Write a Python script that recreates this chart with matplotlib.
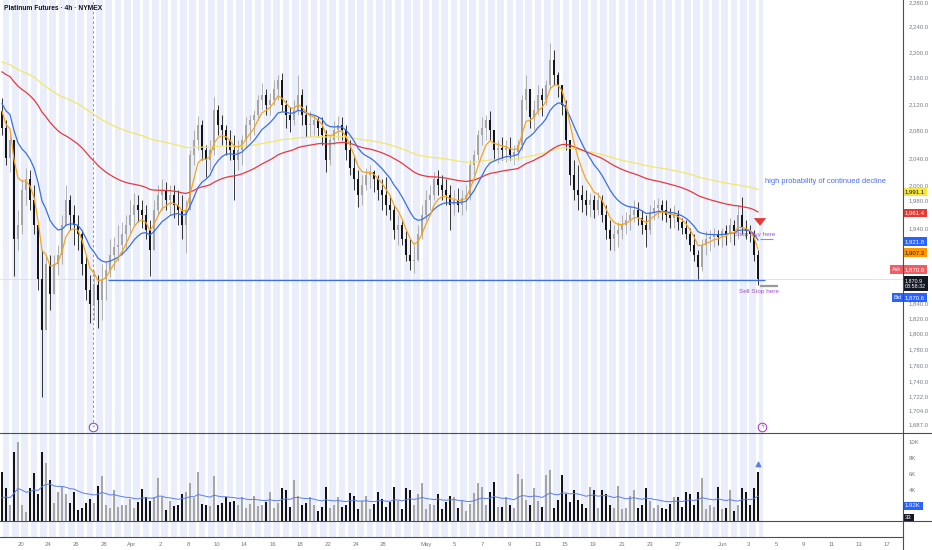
import matplotlib
matplotlib.use("Agg")
import matplotlib.pyplot as plt
from matplotlib.lines import Line2D
from matplotlib.ticker import NullLocator
import numpy as np

plt.rcParams["font.family"] = ["Liberation Sans", "DejaVu Sans"]

# 4h candles (open = previous close)
first_open = 2110.0
highs = [
    2129, 2096, 2081, 2052, 1966, 2009, 2026, 2023, 2001, 1945,
    1911, 1904, 1904, 1904, 1918, 1959, 2001, 1987, 1973, 1959,
    1938, 1904, 1877, 1884, 1877, 1891, 1895, 1925, 1928, 1945,
    1949, 1959, 1980, 1990, 1987, 1980, 1973, 1952, 1980, 2001,
    2009, 2006, 2001, 2001, 1994, 1987, 1980, 2052, 2081, 2102,
    2096, 2059, 2067, 2131, 2119, 2104, 2089, 2081, 2074, 2067,
    2074, 2100, 2104, 2111, 2134, 2152, 2142, 2137, 2157, 2164,
    2168, 2126, 2116, 2126, 2164, 2142, 2119, 2110, 2104, 2100,
    2100, 2081, 2074, 2094, 2102, 2100, 2089, 2067, 2045, 2023,
    2016, 2026, 2030, 2023, 2016, 2009, 2012, 1987, 1973, 1959,
    1952, 1936, 1925, 1918, 1945, 1973, 1994, 2001, 2020, 2023,
    2016, 2009, 2001, 1994, 1997, 1994, 2001, 2037, 2052, 2081,
    2100, 2104, 2110, 2081, 2067, 2071, 2067, 2070, 2059, 2067,
    2134, 2164, 2134, 2126, 2149, 2145, 2157, 2214, 2203, 2169,
    2149, 2126, 2067, 2037, 2030, 2001, 1994, 1990, 1987, 1991,
    1987, 1973, 1952, 1945, 1949, 1959, 1963, 1973, 1980, 1977,
    1966, 1959, 1973, 1980, 1983, 1980, 1980, 1969, 1973, 1966,
    1955, 1952, 1941, 1932, 1911, 1925, 1936, 1938, 1941, 1938,
    1941, 1945, 1955, 1952, 1973, 1984, 1952, 1945, 1938, 1911,
]
lows = [
    2074, 2030, 2020, 1875, 1911, 1932, 1973, 1966, 1932, 1857,
    1721, 1825, 1831, 1851, 1877, 1891, 1945, 1938, 1918, 1911,
    1877, 1844, 1814, 1818, 1807, 1818, 1844, 1874, 1884, 1895,
    1904, 1911, 1932, 1945, 1949, 1941, 1925, 1875, 1918, 1959,
    1966, 1966, 1959, 1955, 1945, 1925, 1907, 1966, 2030, 2052,
    2037, 2012, 2023, 2045, 2074, 2059, 2045, 2037, 1980, 2023,
    2030, 2055, 2067, 2074, 2096, 2111, 2104, 2104, 2119, 2126,
    2110, 2084, 2078, 2089, 2104, 2089, 2071, 2070, 2074, 2070,
    2059, 2019, 2030, 2059, 2067, 2067, 2037, 2016, 1994, 1970,
    1973, 1994, 1997, 1991, 1980, 1966, 1959, 1952, 1925, 1918,
    1918, 1895, 1884, 1880, 1895, 1925, 1952, 1966, 1980, 1987,
    1980, 1973, 1938, 1959, 1963, 1959, 1966, 1980, 2016, 2037,
    2059, 2067, 2067, 2037, 2033, 2037, 2034, 2037, 2030, 2037,
    2052, 2111, 2084, 2081, 2104, 2102, 2119, 2142, 2149, 2131,
    2104, 2052, 2001, 1980, 1966, 1963, 1959, 1956, 1955, 1959,
    1949, 1925, 1911, 1909, 1914, 1925, 1932, 1938, 1949, 1945,
    1932, 1914, 1932, 1952, 1955, 1952, 1949, 1941, 1941, 1938,
    1932, 1925, 1909, 1895, 1871, 1882, 1904, 1909, 1914, 1918,
    1914, 1918, 1922, 1918, 1925, 1932, 1925, 1922, 1895, 1864,
]
closes = [
    2084, 2040, 2067, 1925, 1945, 1994, 2009, 1980, 1945, 1871,
    1805, 1891, 1851, 1891, 1904, 1945, 1980, 1959, 1945, 1932,
    1891, 1857, 1838, 1864, 1844, 1871, 1884, 1904, 1914, 1918,
    1932, 1945, 1959, 1973, 1966, 1959, 1938, 1911, 1966, 1987,
    1994, 1980, 1987, 1973, 1966, 1945, 1966, 2045, 2067, 2089,
    2052, 2037, 2052, 2111, 2089, 2081, 2067, 2052, 2037, 2052,
    2067, 2089, 2096, 2104, 2126, 2134, 2119, 2126, 2142, 2157,
    2119, 2104, 2096, 2111, 2134, 2104, 2089, 2089, 2096, 2084,
    2074, 2037, 2067, 2081, 2089, 2081, 2052, 2026, 2009, 1987,
    2001, 2016, 2020, 2009, 1994, 1987, 1973, 1966, 1938, 1945,
    1925, 1904, 1895, 1897, 1932, 1959, 1980, 1987, 2009, 2001,
    1994, 1987, 1973, 1980, 1973, 1983, 1987, 2030, 2045, 2074,
    2084, 2096, 2081, 2052, 2055, 2052, 2055, 2045, 2049, 2059,
    2126, 2142, 2100, 2111, 2134, 2126, 2149, 2188, 2164, 2149,
    2119, 2067, 2016, 1994, 1987, 1980, 1973, 1980, 1966, 1980,
    1959, 1938, 1925, 1932, 1938, 1945, 1952, 1959, 1966, 1955,
    1945, 1938, 1963, 1969, 1973, 1966, 1959, 1955, 1959, 1949,
    1941, 1932, 1918, 1904, 1887, 1918, 1925, 1928, 1932, 1928,
    1936, 1932, 1945, 1936, 1959, 1941, 1936, 1932, 1904, 1870.9,
]
volume_k = [
    6.2, 4.2, 2.0, 8.8, 10.0, 2.0, 1.2, 4.2, 6.1, 3.4,
    8.8, 7.4, 5.2, 2.3, 3.7, 4.3, 3.4, 2.3, 3.7, 1.4,
    1.6, 2.3, 2.8, 2.3, 4.4, 5.7, 2.1, 1.6, 3.9, 1.8,
    2.1, 2.1, 2.8, 1.6, 2.4, 4.1, 3.1, 2.5, 3.0, 5.5,
    3.1, 1.4, 2.5, 1.9, 2.0, 3.5, 3.7, 4.8, 2.9, 6.2,
    2.2, 2.1, 1.9, 5.7, 2.0, 2.3, 3.1, 2.4, 2.5, 2.1,
    3.1, 1.6, 2.2, 3.2, 1.9, 2.0, 2.4, 3.7, 1.6, 2.3,
    4.2, 3.9, 1.8, 5.2, 3.2, 2.1, 2.3, 3.0, 2.0, 1.3,
    1.8, 4.3, 1.6, 2.0, 3.0, 1.8, 2.0, 3.6, 3.2, 1.5,
    2.5, 3.2, 1.5, 2.2, 3.7, 2.8, 1.8, 2.4, 4.3, 2.6,
    1.5, 4.2, 3.9, 2.0, 3.5, 4.8, 1.5, 2.2, 2.0, 3.4,
    1.5, 2.4, 3.2, 3.1, 1.6, 2.6, 1.3, 2.2, 3.6, 4.8,
    4.3, 2.0, 3.7, 5.0, 1.8, 1.8, 3.0, 2.1, 1.6, 6.0,
    5.3, 2.7, 2.1, 4.2, 2.5, 1.8, 5.9, 6.5, 1.6, 2.7,
    5.9, 3.5, 2.4, 4.0, 2.7, 2.2, 1.6, 4.3, 3.9, 1.6,
    3.9, 3.4, 2.0, 1.6, 4.4, 1.5, 1.6, 3.2, 4.0, 1.6,
    2.1, 4.2, 2.5, 1.6, 2.0, 1.6, 1.5, 2.2, 3.0, 3.0,
    1.8, 3.7, 3.4, 2.1, 3.7, 5.5, 1.5, 2.1, 1.8, 4.3,
    1.5, 1.6, 3.9, 1.3, 2.0, 4.2, 3.7, 2.0, 4.2, 6.2,
]

# moving averages: (period, value before the first visible bar, colour)
ma_specs = [
    (125, 2186.0, "#f3e66a"),
    (60, 2172.0, "#e5393f"),
    (14, 2126.0, "#3b6fe6"),
    (6, 2119.0, "#f7a41d"),
]
ma_last_labels = ["1,991.1", "1,961.4", "1,921.8", "1,907.3"]
ma_last_values = [1991.1, 1961.4, 1921.8, 1907.3]
volume_ma_seed = 2.6

last_price = 1870.9
bid_price = 1870.6
support_level = 1870.0
countdown = "03:58:32"
volume_ma_label = "1.92K"
extra_pane_label = "33"

price_ticks = [2280, 2240, 2200, 2160, 2120, 2080, 2040, 2000, 1980,
               1940, 1840, 1820, 1800, 1780, 1760,
               1740, 1722, 1704, 1687]
volume_ticks = [10, 8, 6, 4]
date_labels = ["20", "24", "26", "28", "Apr", "2", "8", "10", "14", "16", "18",
               "22", "24", "28", "May", "5", "7", "9", "13", "15", "19", "21",
               "23", "27", "Jun", "3", "5", "9", "11", "13", "17"]
date_bars = [4.75, 11.5, 18.5, 25.5, 32.5, 39.5, 46.5, 53.75, 60.5, 67.75, 74.5,
             81.5, 88.5, 95.25, 106, 113, 120, 126.75, 134, 140.75, 147.75, 155,
             162, 169, 180.25, 186.5, 193.5, 200.25, 207.5, 214.25, 221.25]


def ema(values, period, seed):
    alpha = 2.0 / (period + 1)
    out = np.empty(len(values))
    prev = seed
    for i, v in enumerate(values):
        prev = prev + alpha * (v - prev)
        out[i] = prev
    return out


closes = np.array(closes, dtype=float)
opens = np.r_[first_open, closes[:-1]]
highs = np.maximum(np.array(highs, dtype=float), np.maximum(opens, closes))
lows = np.minimum(np.array(lows, dtype=float), np.minimum(opens, closes))
volume_k = np.array(volume_k)
n = len(closes)
idx = np.arange(n)
up = closes >= opens

UP_COLOR = "#a6a6a6"
DOWN_COLOR = "#141414"
AXIS_TEXT = "#787b86"
LINE_DARK = "#4a4d57"

W, H = 932, 550
fig = plt.figure(figsize=(W / 100, H / 100), dpi=100)


def fig_rect(x0, y0, x1, y1):
    return [x0 / W, 1 - y1 / H, (x1 - x0) / W, (y1 - y0) / H]


ax = fig.add_axes(fig_rect(0, 0, 903, 433))
axv = fig.add_axes(fig_rect(0, 433, 903, 521), sharex=ax)
axt = fig.add_axes(fig_rect(0, 521, 903, 537), sharex=ax)

x_left, x_right = -0.5, 225.25
ax.set_xlim(x_left, x_right)

# session stripes
stripe_period = 2.333
for a in (ax, axv, axt):
    for s in np.arange(x_left, n + 0.5, stripe_period):
        a.axvspan(s + 0.7, min(s + stripe_period, n + 0.3), color="#e9eefa",
                  lw=0, zorder=0)

# --- price pane ---
ax.set_yscale("log")
ax.set_ylim(1677, 2283)
ax.vlines(idx, lows, highs, colors=np.where(up, UP_COLOR, DOWN_COLOR),
          lw=0.6, zorder=3)
body = np.maximum(np.abs(closes - opens), 0.8)
ax.bar(idx, body, bottom=np.minimum(opens, closes), width=0.62,
       color=np.where(up, UP_COLOR, DOWN_COLOR), lw=0, zorder=3)

for period, seed, color in ma_specs:
    ax.plot(idx, ema(closes, period, seed), color=color, lw=0.9, zorder=4)

ax.axhline(last_price, color="#d9d9d9", lw=0.5, zorder=1)
ax.hlines(support_level, 26.5, 190.75, color="#3b6fe6", lw=0.9, zorder=5)
ax.vlines(22.75, 1690, 2283, color="#9b7fe0", lw=0.7,
          linestyles=(0, (2.5, 2.5)), zorder=2)

# annotations
ax.text(190.75, 2006, "high probability of continued decline", color="#4a6cf0",
        fontsize=5.4, ha="left", va="center", zorder=6)
ax.annotate("", xy=(189.5, 1940), xytext=(189.5, 1958),
            arrowprops=dict(arrowstyle="simple,head_width=0.9,head_length=0.55,tail_width=0.5",
                            color="#e53935", lw=0), zorder=6)
ax.hlines(1925, 189.5, 192.75, color="#9a8bb0", lw=0.8, zorder=5)
ax.text(188.2, 1932, "Stop Buy here", color="#a04fd0", fontsize=4.6,
        ha="center", va="center", zorder=6)
ax.hlines(1862, 189.5, 194.0, color="#9a9a9a", lw=1.6, zorder=5)
ax.text(189.3, 1855, "Sell Stop here", color="#a04fd0", fontsize=4.6,
        ha="center", va="center", zorder=6)

# event icons on the pane bottom
for xb, sym, col in [(22.75, "»", "#7e57c2"), (190.0, "ϟ", "#b03fc6")]:
    ax.scatter([xb], [1684.6], s=38, facecolor="white", edgecolor=col,
               lw=0.8, zorder=7, clip_on=False)
    ax.text(xb, 1684.6, sym, color=col, fontsize=4, ha="center", va="center",
            zorder=8, clip_on=False, family="DejaVu Sans")

ax.yaxis.tick_right()
ax.set_yticks(price_ticks, [f"{t:,.1f}" for t in price_ticks])
ax.yaxis.set_minor_locator(NullLocator())
ax.tick_params(axis="y", length=0, pad=4, labelsize=4.3, labelcolor=AXIS_TEXT)
ax.tick_params(axis="x", bottom=False, labelbottom=False)
for sp in ax.spines.values():
    sp.set_visible(False)


def axis_box(a, y, text, fc, tc, dx=2, dy=0, ha="left", size=4.3):
    a.annotate(text, xy=(1.0, y), xycoords=a.get_yaxis_transform(),
               xytext=(dx, dy), textcoords="offset pixels", ha=ha, va="center",
               fontsize=size, color=tc, annotation_clip=False, zorder=10,
               linespacing=1.25,
               bbox=dict(boxstyle="square,pad=0.3", fc=fc, ec="none"))


box_colors = [("#f5e740", "#131722"), ("#e53935", "white"),
              ("#2962ff", "white"), ("#ff9800", "#131722")]
for (fc, tc), val, lab in zip(box_colors, ma_last_values, ma_last_labels):
    axis_box(ax, val, lab, fc, tc)

axis_box(ax, last_price, f"{last_price:,.1f}", "#f05d62", "white", dy=10)
axis_box(ax, last_price, "Ask", "#f05d62", "white", dx=-2, dy=10, ha="right",
         size=3.9)
axis_box(ax, last_price, f"{last_price:,.1f}\n{countdown}", "#131722", "white",
         dy=-4, size=3.9)
axis_box(ax, last_price, f"{bid_price:,.1f}", "#2962ff", "white", dy=-18)
axis_box(ax, last_price, "Bid", "#2962ff", "white", dx=-2, dy=-18, ha="right",
         size=3.9)

# --- volume pane ---
axv.set_ylim(0, 11.2)
axv.bar(idx, volume_k, width=0.62, color=np.where(up, UP_COLOR, DOWN_COLOR),
        lw=0, zorder=3)
axv.plot(idx, ema(volume_k, 20, volume_ma_seed), color="#5b7de6", lw=0.7,
         zorder=4)
axv.scatter([n - 1], [7.3], marker="^", s=10, color="#5b7de6", zorder=5)
axv.yaxis.tick_right()
axv.set_yticks(volume_ticks, [f"{t}K" for t in volume_ticks])
axv.tick_params(axis="y", length=0, pad=4, labelsize=4.3, labelcolor=AXIS_TEXT)
axv.tick_params(axis="x", bottom=False, labelbottom=False)
for sp in axv.spines.values():
    sp.set_visible(False)
axis_box(axv, 1.92, volume_ma_label, "#2962ff", "white")
axis_box(axv, 0.4, extra_pane_label, "#131722", "white")

# --- time axis ---
axt.set_ylim(0, 1)
axt.set_yticks([])
axt.set_xticks(date_bars, date_labels)
axt.tick_params(axis="x", length=0, pad=3.5, labelsize=4.3, labelcolor=AXIS_TEXT)
for sp in axt.spines.values():
    sp.set_visible(False)

# pane separators and axis border
for y0, x1 in [(433, W), (521, W), (537, 903)]:
    fig.add_artist(Line2D([0, x1 / W], [1 - y0 / H] * 2, color=LINE_DARK,
                          lw=0.8, transform=fig.transFigure))
fig.add_artist(Line2D([903 / W] * 2, [0, 1], color=LINE_DARK, lw=0.8,
                      transform=fig.transFigure))

fig.text(4 / W, 1 - 8 / H, "Platinum Futures · 4h · NYMEX", fontsize=4.8,
         weight="bold", color="#131722", ha="left", va="center")

fig.savefig("out.png", dpi=100)
